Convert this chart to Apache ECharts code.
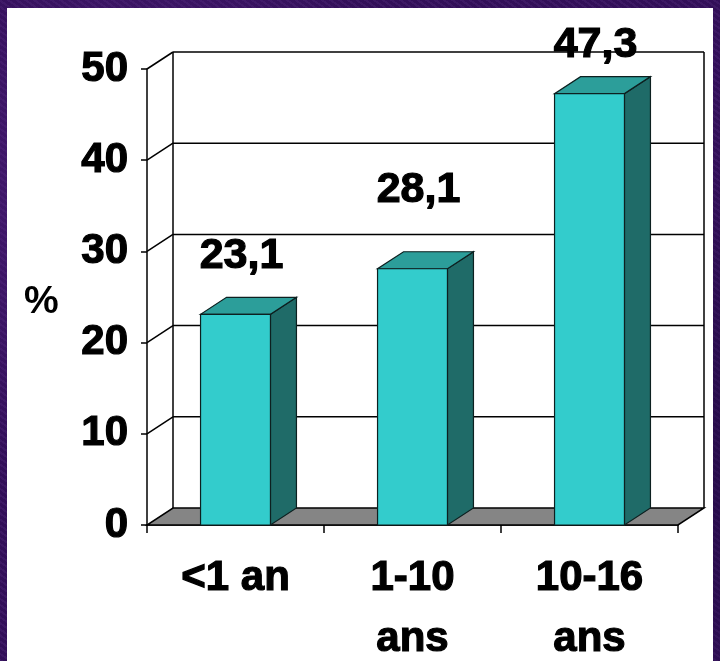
<!DOCTYPE html>
<html>
<head>
<meta charset="utf-8">
<script src="https://cdn.jsdelivr.net/npm/echarts@6/dist/echarts.min.js"></script>
<style>
html,body{margin:0;padding:0;}
body{width:720px;height:661px;position:relative;overflow:hidden;
  background:#35105e;
  background-image:
    radial-gradient(circle at 20% 30%, rgba(90,40,140,0.6) 0, rgba(0,0,0,0) 40%),
    radial-gradient(circle at 80% 70%, rgba(20,5,50,0.6) 0, rgba(0,0,0,0) 45%),
    repeating-linear-gradient(35deg, rgba(255,255,255,0.04) 0 2px, rgba(0,0,0,0.06) 2px 5px);
}
#panel{position:absolute;left:7px;top:8px;width:706px;height:653px;background:#ffffff;}
#chart{position:absolute;left:0;top:0;width:720px;height:661px;}
</style>
</head>
<body>
<div id="panel"></div>
<div id="chart"></div>
<script>
// ---- data ----
var categories = ['<1 an', '1-10\nans', '10-16\nans'];
var values = [23.1, 28.1, 47.3];
var yTicks = [0, 10, 20, 30, 40, 50];
var yAxisName = '%';

// ---- layout / style constants ----
var DX = 26, DY = -17;            // 3D depth offset
var labelLift = [58, 79, 48];     // value label height above bar front top
var FONT = 'Liberation Sans, Arial, sans-serif';

function fmt(v) { return v.toFixed(1).replace('.', ','); }

var chart = echarts.init(document.getElementById('chart'), null, {renderer: 'canvas'});

var option = {
  backgroundColor: 'transparent',
  animation: false,
  grid: {left: 147, right: 42, top: 69, bottom: 136, containLabel: false, outerBoundsMode: 'none'},
  xAxis: {
    type: 'category',
    data: categories,
    boundaryGap: true,
    axisLine: {show: true, lineStyle: {color: '#000', width: 1.5}},
    axisTick: {show: true, length: 8, lineStyle: {color: '#000', width: 1.5}},
    axisLabel: {color: '#000', fontFamily: FONT, fontWeight: 'bold', fontSize: 42, lineHeight: 61, margin: 23,
      textBorderColor: '#000', textBorderWidth: 1.2},
    splitLine: {show: false}
  },
  yAxis: {
    type: 'value',
    min: 0, max: 50, interval: 10,
    axisLine: {show: true, lineStyle: {color: '#000', width: 1.5}},
    axisTick: {show: true, length: 6, lineStyle: {color: '#000', width: 1.5}},
    axisLabel: {color: '#000', fontFamily: FONT, fontWeight: 'bold', fontSize: 42, margin: 19,
      textBorderColor: '#000', textBorderWidth: 1.2},
    splitLine: {show: false}
  },
  graphic: [{
    type: 'text', left: 24, top: 283,
    style: {text: yAxisName, fill: '#000', font: 'bold 39px ' + FONT}
  }],
  series: [
    {
      type: 'custom',
      name: 'frame',
      z: 1,
      clip: false,
      data: yTicks.map(function (v) { return [0, v]; }),
      renderItem: function (params, api) {
        var v = api.value(1);
        var cs = params.coordSys;
        var x0 = cs.x, x1 = cs.x + cs.width;
        var y = api.coord([0, v])[1];
        var yFloor = api.coord([0, yTicks[0]])[1];
        var children = [];
        var ls = {stroke: '#000', lineWidth: 1.5};
        if (v === yTicks[0]) {
          children.push({
            type: 'polygon',
            shape: {points: [[x0, y], [x1, y], [x1 + DX, y + DY], [x0 + DX, y + DY]]},
            style: {fill: '#858585', stroke: '#000', lineWidth: 1.5}
          });
        } else {
          children.push({type: 'line', shape: {x1: x0, y1: y, x2: x0 + DX, y2: y + DY}, style: ls});
          children.push({type: 'line', shape: {x1: x0 + DX, y1: y + DY, x2: x1 + DX, y2: y + DY}, style: ls});
        }
        if (v === yTicks[yTicks.length - 1]) {
          children.push({type: 'line', shape: {x1: x0 + DX, y1: y + DY, x2: x0 + DX, y2: yFloor + DY}, style: ls});
          children.push({type: 'line', shape: {x1: x1 + DX, y1: y + DY, x2: x1 + DX, y2: yFloor + DY}, style: ls});
        }
        return {type: 'group', children: children};
      }
    },
    {
      type: 'custom',
      name: 'bars',
      z: 3,
      clip: false,
      data: values.map(function (v, i) { return [i, v]; }),
      renderItem: function (params, api) {
        var i = api.value(0), v = api.value(1);
        var top = api.coord([i, v]);
        var base = api.coord([i, 0]);
        var band = api.size([1, 0])[0];
        var w = band * 0.395;
        var xa = top[0] - w / 2, xb = top[0] + w / 2;
        var yt = top[1], yb = base[1];
        var edge = '#0d2020';
        return {
          type: 'group',
          children: [
            {type: 'polygon', shape: {points: [[xb, yt], [xb + DX, yt + DY], [xb + DX, yb + DY], [xb, yb]]},
              style: {fill: '#1f6b68', stroke: edge, lineWidth: 1.2}},
            {type: 'polygon', shape: {points: [[xa, yt], [xb, yt], [xb + DX, yt + DY], [xa + DX, yt + DY]]},
              style: {fill: '#2c9e9a', stroke: edge, lineWidth: 1.2}},
            {type: 'rect', shape: {x: xa, y: yt, width: w, height: yb - yt},
              style: {fill: '#33cccc', stroke: edge, lineWidth: 1.2}},
            {type: 'text', x: top[0] + 6, y: yt - labelLift[i],
              style: {text: fmt(v), fill: '#000', font: 'bold 43px ' + FONT, align: 'center', verticalAlign: 'middle',
                stroke: '#000', lineWidth: 1.2}}
          ]
        };
      }
    }
  ]
};
chart.setOption(option);
</script>
</body>
</html>
